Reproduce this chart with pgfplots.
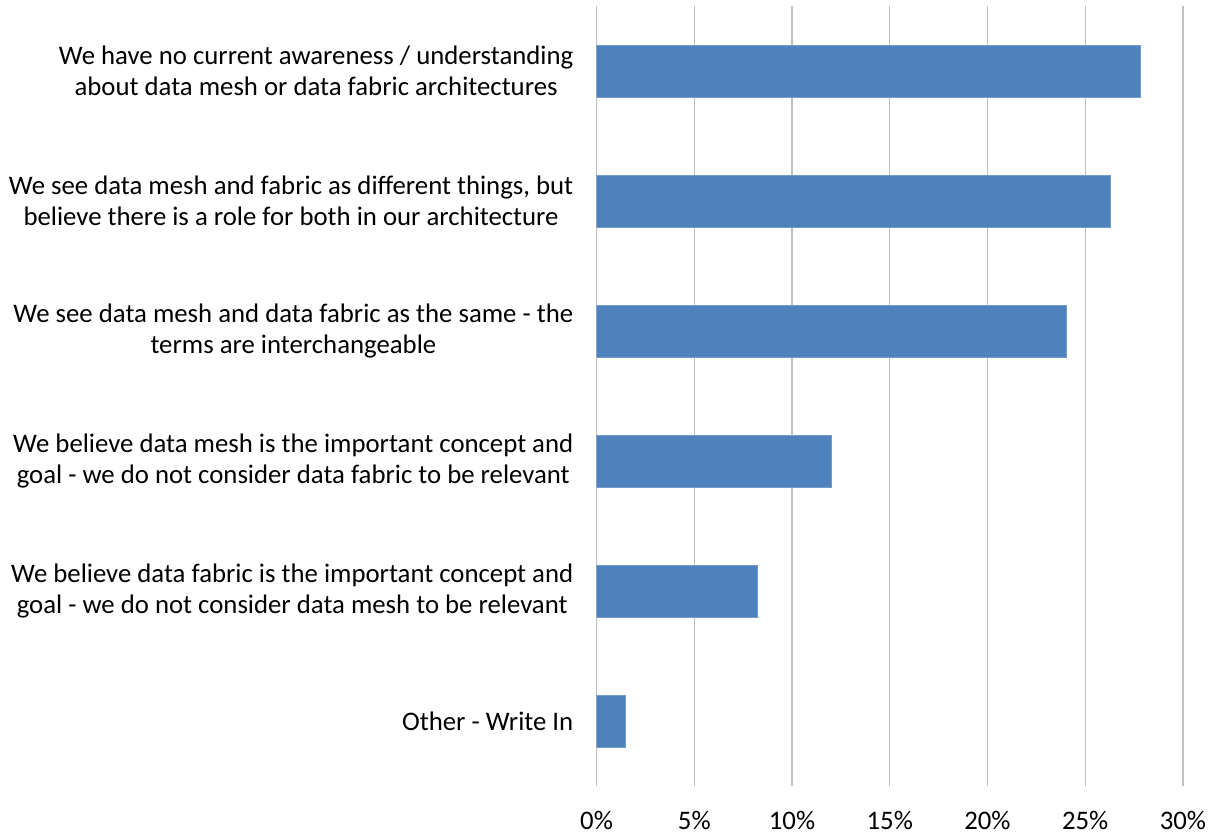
\documentclass[border=0pt]{standalone}
\usepackage{fontspec}
\setmainfont{Carlito}
\usepackage{pgfplots}
\pgfplotsset{compat=1.18}
\definecolor{barblue}{HTML}{4F81BD}
\definecolor{gridgray}{HTML}{BFBFBF}
\begin{document}
\fontsize{13.4}{15.4}\selectfont
\begin{tikzpicture}
\begin{axis}[
  scale only axis,
  width=293.5pt, height=390.5pt,
  xbar, bar width=0.4,
  xmin=0, xmax=30,
  ymin=-0.5, ymax=5.5,
  y dir=reverse,
  axis line style={draw=none},
  xtick={0,5,10,15,20,25,30},
  xticklabels={0\%,5\%,10\%,15\%,20\%,25\%,30\%},
  ytick={0,1,2,3,4,5},
  yticklabels={
    {We have no current awareness / understanding\\about data mesh or data fabric architectures},
    {We see data mesh and fabric as different things, but\\believe there is a role for both in our architecture},
    {We see data mesh and data fabric as the same - the\\terms are interchangeable},
    {We believe data mesh is the important concept and\\goal - we do not consider data fabric to be relevant},
    {We believe data fabric is the important concept and\\goal - we do not consider data mesh to be relevant},
    {Other - Write In}},
  yticklabel style={align=center, font=\fontsize{13.4}{15.4}\selectfont, xshift=-7pt},
  xticklabel style={font=\fontsize{13.4}{15.4}\selectfont, yshift=-8pt},
  major tick length=0pt,
  xmajorgrids, grid style={gridgray, line width=0.7pt},
  ymajorgrids=false,
]
\addplot[fill=barblue, draw=barblue!80!white, line width=0.4pt] coordinates {
  (27.82,0) (26.30,1) (24.06,2) (12.03,3) (8.24,4) (1.50,5)};
\coordinate (axtop) at (axis cs:0,-0.5);
\end{axis}
\path (axtop) -- ++(0,3pt);
\end{tikzpicture}
\end{document}
